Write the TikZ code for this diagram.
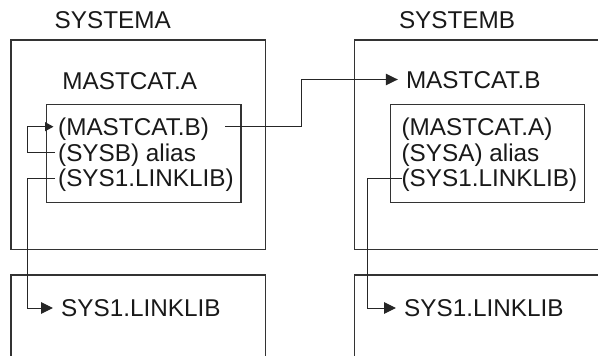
\documentclass[tikz,border=0pt]{standalone}
\usepackage{fontspec}
\setmainfont{Liberation Sans}
\usepackage{tikz}
\usetikzlibrary{arrows.meta}
\newcommand{\panel}[4]{ \draw[box] ( #1 , #2 ) rectangle ( #3 , #4 );}
\newcommand{\entry}[4]{\node[entry] (#1) at ( #2 , #3 ) {#4};}
\newcommand{\target}[4]{\node[entry,inner xsep=8pt] (#1) at ( #2 , #3 ) {#4};}
\begin{document}
\begin{tikzpicture}[x=1pt,y=-1pt,
    box/.style={line width=1.1pt,draw=black!80},
    entry/.style={anchor=west,inner xsep=3pt,inner ysep=0pt,text height=17.4pt,text depth=0pt,
        text=black!90,font=\fontsize{24.3}{29}\selectfont},
    conn/.style={line width=1pt,draw=black!85,-{Triangle[length=12pt,width=11.5pt]}},
    loop/.style={line width=1pt,draw=black!85,-{Triangle[length=8.5pt,width=9pt]}}]
        \clip (0,0) rectangle (598,356);
        % systema
        \panel{11}{40}{265.5}{249.3}
        \panel{11}{275}{265.5}{370}
        \panel{46.7}{104.3}{241}{202.7}
        % systemb
        \panel{354.3}{40}{620}{249.3}
        \panel{354.3}{275}{620}{370}
        \panel{390.5}{104.3}{584.5}{202.7}
        % labels for systema
        \entry{sysa}{51.5}{20}{SYSTEMA}
        \entry{acat}{59.2}{80.5}{MASTCAT.A}
        \entry{amastb}{55}{126.7}{(MASTCAT.B)}
        \entry{asysb}{55}{152.5}{(SYSB) alias}
        \entry{alink}{55}{178}{(SYS1.LINKLIB)}
        \target{alib}{53}{308}{SYS1.LINKLIB}
        % labels for systemb
        \entry{sysb}{395.8}{20}{SYSTEMB}
        \target{bcat}{397.8}{79.5}{MASTCAT.B}
        \entry{bmasta}{398.4}{126.5}{(MASTCAT.A)}
        \entry{bsysa}{398.4}{152.5}{(SYSA) alias}
        \entry{blink}{398.4}{178}{(SYS1.LINKLIB)}
        \target{blib}{396}{308}{SYS1.LINKLIB}
        % connectors
        \draw[loop,shorten >=1.5pt] (asysb.west) -- ++(-27.8,0) |- (amastb.west);
        \draw[conn] (alink.west) -- ++(-27.8,0) |- (alib.west);
        \draw[conn,shorten <=13pt] (amastb.east) -- ++(89,0) |- (bcat.west);
        \draw[conn,shorten <=-4pt] (blink.west) -- ++(-31,0) |- (blib.west);
\end{tikzpicture}
\end{document}
